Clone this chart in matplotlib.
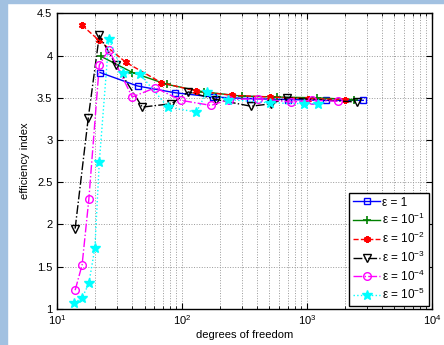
import matplotlib
matplotlib.use("Agg")
import matplotlib.pyplot as plt
from matplotlib.patches import Rectangle

plt.rcParams["font.family"] = ["Liberation Sans", "DejaVu Sans"]
plt.rcParams["mathtext.fontset"] = "custom"
plt.rcParams["mathtext.rm"] = "Liberation Sans"

# eps = 1
dof_1 = [22, 44, 88, 176, 352, 704, 1408, 2816]
eff_1 = [3.80, 3.64, 3.56, 3.51, 3.49, 3.48, 3.47, 3.47]

# eps = 1e-1
dof_2 = [22.5, 40, 75, 150, 300, 573, 1197, 2355]
eff_2 = [3.99, 3.80, 3.66, 3.57, 3.52, 3.51, 3.50, 3.48]

# eps = 1e-2
dof_3 = [15.8, 21.6, 35.5, 68, 130, 250, 506, 1015, 2014]
eff_3 = [4.36, 4.18, 3.92, 3.68, 3.58, 3.53, 3.51, 3.49, 3.48]

# eps = 1e-3
dof_4 = [13.9, 17.7, 21.7, 29.5, 47.9, 82, 112, 188, 356, 515, 689, 2500]
eff_4 = [1.95, 3.26, 4.24, 3.89, 3.39, 3.43, 3.57, 3.48, 3.40, 3.43, 3.50, 3.45]

# eps = 1e-4
dof_5 = [13.9, 15.8, 17.9, 21.7, 25.9, 39.8, 61, 98, 170, 235, 408, 745, 1090, 1782]
eff_5 = [1.22, 1.52, 2.30, 3.89, 4.07, 3.51, 3.62, 3.47, 3.41, 3.48, 3.49, 3.45, 3.47, 3.46]

# eps = 1e-5
dof_6 = [13.7, 15.8, 17.9, 20.0, 21.7, 25.9, 33.7, 45.9, 77, 130, 157, 232, 506, 953, 1233]
eff_6 = [1.07, 1.13, 1.30, 1.72, 2.74, 4.20, 3.79, 3.78, 3.39, 3.33, 3.57, 3.48, 3.44, 3.43, 3.43]

labels = [r"ε = 1", r"ε = 10$^{-1}$", r"ε = 10$^{-2}$",
          r"ε = 10$^{-3}$", r"ε = 10$^{-4}$", r"ε = 10$^{-5}$"]

fig = plt.figure(figsize=(4.44, 3.45), dpi=100)
ax = fig.add_axes([0.129, 0.105, 0.844, 0.856])

# light blue frame strips from the screenshot
fig.patches.append(Rectangle((0, 0), 7 / 444, 1, transform=fig.transFigure, color="#a2c1e1", zorder=-1))
fig.patches.append(Rectangle((0, 1 - 3 / 345), 1, 3 / 345, transform=fig.transFigure, color="#a2c1e1", zorder=-1))

lw = 1.0
ax.plot(dof_1, eff_1, "-s", color="blue", mfc="none", ms=5, lw=lw, label=labels[0])
ax.plot(dof_2, eff_2, "-+", color="green", ms=6, mew=1.2, lw=lw, label=labels[1])
ax.plot(dof_3, eff_3, "--", marker=(6, 2, 0), color="red", ms=5, mew=1.5, lw=lw, label=labels[2])
ax.plot(dof_4, eff_4, "-.", marker="v", color="black", mfc="none", ms=6, lw=lw, label=labels[3])
ax.plot(dof_5, eff_5, "-.", marker="o", color="magenta", mfc="none", ms=5.5, lw=lw, label=labels[4])
ax.plot(dof_6, eff_6, ":", marker="*", color="cyan", ms=7.5, lw=lw, label=labels[5])

ax.set_xscale("log")
ax.set_xlim(10, 1e4)
ax.set_ylim(1, 4.5)
ax.set_yticks([1, 1.5, 2, 2.5, 3, 3.5, 4, 4.5])
ax.set_yticklabels(["1", "1.5", "2", "2.5", "3", "3.5", "4", "4.5"])
ax.grid(True, which="major", linestyle=":", color="0.6", lw=0.7)
ax.grid(True, which="minor", axis="x", linestyle=":", color="0.6", lw=0.7)
ax.tick_params(which="both", direction="in", top=True, right=True, labelsize=8)
ax.tick_params(which="major", length=4)
ax.tick_params(which="minor", length=2)
for s in ax.spines.values():
    s.set_linewidth(1.0)

ax.set_xlabel("degrees of freedom", fontsize=8, labelpad=2)
ax.set_ylabel("efficiency index", fontsize=8, labelpad=5)

leg = ax.legend(loc="lower right", fontsize=8.5, fancybox=False, framealpha=1,
                edgecolor="black", handlelength=2.3, handletextpad=0.2,
                borderpad=0.3, labelspacing=0.3, borderaxespad=0.25)
leg.get_frame().set_linewidth(1.0)

fig.savefig("out.png", dpi=100)
